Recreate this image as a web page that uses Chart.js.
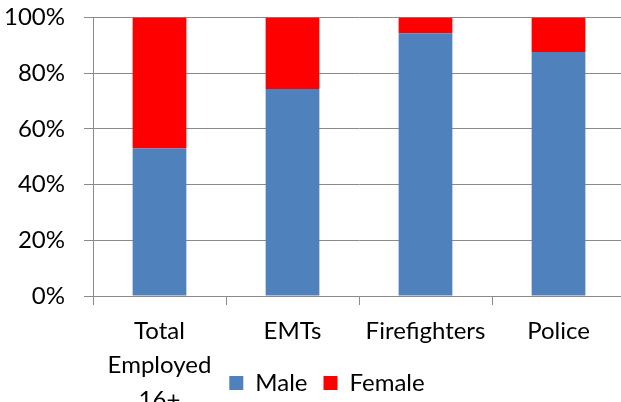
<!DOCTYPE html>
<html>
<head>
<meta charset="utf-8">
<script src="https://cdn.jsdelivr.net/npm/chart.js@4.4.0/dist/chart.umd.min.js"></script>
<style>
  html, body { margin: 0; padding: 0; overflow: hidden; background: #fff; }
  #wrap { position: absolute; left: 0; top: 0; width: 654px; height: 410px; }
</style>
</head>
<body>
<div id="wrap"><canvas id="chart" width="654" height="410"></canvas></div>
<script>
"use strict";

// categories, shares of employed people by sex (percent)
var categories = [["Total", "Employed", "16+"], "EMTs", "Firefighters", "Police"];
var maleShare = [53.0, 74.3, 94.3, 87.6];
var femaleShare = [47.0, 25.7, 5.7, 12.4];
var yTicks = [0, 20, 40, 60, 80, 100];

var gridColor = "#8a8a8a";
var font = { family: "Lato", size: 24 };

// let the tick labels run past their axis boxes (labels overlap the legend like the original)
var unclipLabels = {
    id: 'unclipLabels',
    afterLayout: function (chart) {
        chart.scales.x.bottom = chart.height;
        chart.scales.y.left = 0;
    }
};

var ctx = document.getElementById("chart").getContext("2d");

var myChart = new Chart(ctx, {
    type: 'bar',
    data: {
        labels: categories,
        datasets: [
            { label: "Male", data: maleShare, backgroundColor: "#4F81BD",
              categoryPercentage: 1.0, barPercentage: 0.404 },
            { label: "Female", data: femaleShare, backgroundColor: "#FF0000",
              categoryPercentage: 1.0, barPercentage: 0.404 }
        ]
    },
    plugins: [unclipLabels],
    options: {
        responsive: false,
        animation: false,
        layout: { padding: { top: 17.5, left: 29, right: 29, bottom: 5 } },
        plugins: {
            tooltip: { enabled: false },
            legend: {
                position: 'bottom',
                labels: {
                    boxWidth: 14, boxHeight: 14, padding: 16,
                    color: "#000", font: font
                }
            }
        },
        scales: {
            x: {
                stacked: true,
                grid: { display: true, drawOnChartArea: false, tickLength: 9,
                        color: gridColor, offset: true },
                border: { display: true, color: gridColor },
                ticks: { color: "#000", padding: 9, maxRotation: 0, autoSkip: false,
                         font: { family: "Lato", size: 24, lineHeight: 1.433 } },
                afterFit: function (scale) { scale.height = 59; }
            },
            y: {
                stacked: true,
                min: 0,
                max: 100,
                afterBuildTicks: function (scale) {
                    scale.ticks = yTicks.map(function (v) { return { value: v }; });
                },
                grid: { color: gridColor, tickLength: 9 },
                border: { display: true, color: gridColor },
                ticks: { color: "#000", padding: 19, font: font,
                         callback: function (v) { return v + "%"; } },
                afterFit: function (scale) {
                    scale.width = 64;
                    scale.paddingTop = 0;
                    scale.paddingBottom = 0;
                }
            }
        }
    }
});
</script>
</body>
</html>
